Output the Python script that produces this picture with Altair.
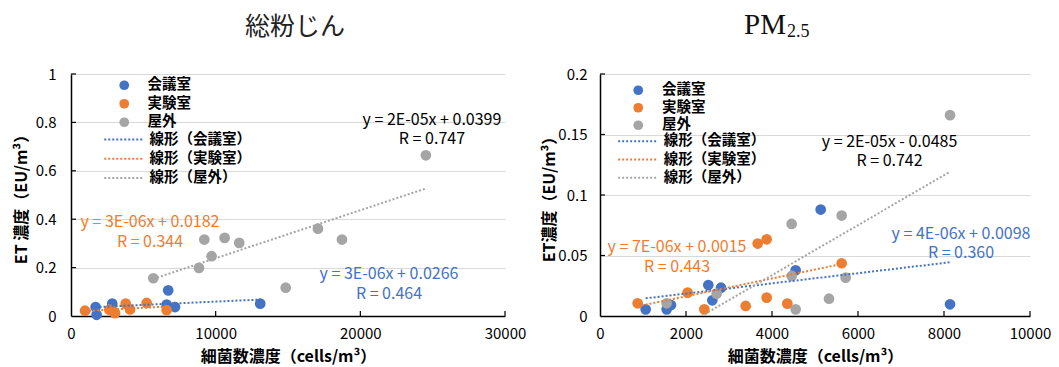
import altair as alt
import pandas as pd

SERIES = ["会議室", "実験室", "屋外"]
COLORS = ["#4472C4", "#ED7D31", "#A5A5A5"]
TREND_LABELS = ["線形（会議室）", "線形（実験室）", "線形（屋外）"]

# ---- 総粉じん (total dust) ----
tsp_room_x = [1700, 1770, 2850, 6610, 6720, 7190, 13080]
tsp_room_y = [0.037, 0.005, 0.051, 0.047, 0.106, 0.037, 0.051]
tsp_lab_x = [970, 2650, 2920, 3040, 3780, 4080, 5230, 6610]
tsp_lab_y = [0.022, 0.026, 0.019, 0.012, 0.051, 0.027, 0.054, 0.024]
tsp_out_x = [5690, 8846, 9720, 9215, 10620, 11630, 14840, 17070, 18730, 24530]
tsp_out_y = [0.156, 0.199, 0.247, 0.316, 0.323, 0.302, 0.117, 0.361, 0.316, 0.664]

# ---- PM2.5 ----
pm_room_x = [1062, 1550, 1651, 2519, 2612, 2814, 4550, 5132, 8140]
pm_room_y = [0.0055, 0.0055, 0.0091, 0.0256, 0.0130, 0.0234, 0.0378, 0.0880, 0.0097]
pm_lab_x = [876, 2039, 2426, 3388, 3667, 3876, 3876, 4357, 5620]
pm_lab_y = [0.0105, 0.0193, 0.0055, 0.0083, 0.0599, 0.0634, 0.0152, 0.0102, 0.0436]
pm_out_x = [1550, 2713, 4457, 4457, 4550, 5326, 5620, 5713, 8140]
pm_out_y = [0.0105, 0.0185, 0.0761, 0.0331, 0.0055, 0.0143, 0.0830, 0.0317, 0.1660]

# equation labels (text, colour) and their anchor in data units
tsp_eq_text = ["y = 2E-05x + 0.0399", "R = 0.747", "y = 3E-06x + 0.0182", "R = 0.344",
               "y = 3E-06x + 0.0266", "R = 0.464"]
tsp_eq_color = ["#000000", "#000000", "#ED7D31", "#ED7D31", "#4472C4", "#4472C4"]
tsp_eq_x = [24950, 24950, 5460, 5460, 21980, 21980]
tsp_eq_y = [0.811, 0.733, 0.387, 0.306, 0.174, 0.092]

pm_eq_text = ["y = 2E-05x - 0.0485", "R = 0.742", "y = 7E-06x + 0.0015", "R = 0.443",
              "y = 4E-06x + 0.0098", "R = 0.360"]
pm_eq_color = ["#000000", "#000000", "#ED7D31", "#ED7D31", "#4472C4", "#4472C4"]
pm_eq_x = [6733, 6733, 1791, 1791, 8395, 8395]
pm_eq_y = [0.1440, 0.1281, 0.0570, 0.0407, 0.0675, 0.0518]

tsp_x_ticks = [0, 10000, 20000, 30000]
tsp_y_ticks = [0, 0.2, 0.4, 0.6, 0.8, 1.0]
pm_x_ticks = [0, 2000, 4000, 6000, 8000, 10000]
pm_y_ticks = [0, 0.05, 0.1, 0.15, 0.2]

JP = "Noto Sans CJK JP"
LINE_SYMBOL = "M-2,0H2"


def make_points(xs_list, ys_list):
    rows = []
    for s, xs, ys in zip(SERIES, xs_list, ys_list):
        for xv, yv in zip(xs, ys):
            rows.append({"x": xv, "y": yv, "series": s})
    return pd.DataFrame(rows)


def panel(df, eq_df, xdom, xticks, ydom, yticks, ytitle, W, H,
          lp, title_layers, ylabpad, ytitlepad):
    xenc = alt.X("x:Q", scale=alt.Scale(domain=xdom, nice=False, zero=False),
                 axis=alt.Axis(values=xticks, format="d", grid=False, ticks=False,
                               labelFlush=False,
                               domainColor="#000000", domainWidth=1.5,
                               labelFont=JP, labelFontSize=15, labelColor="#000000",
                               labelPadding=10, title="細菌数濃度（cells/m³）",
                               titleFont=JP, titleFontSize=16, titleFontWeight="bold",
                               titleColor="#000000", titlePadding=7))
    yenc = alt.Y("y:Q", scale=alt.Scale(domain=ydom, nice=False, zero=False),
                 axis=alt.Axis(values=yticks, format="~g", grid=True, gridColor="#D9D9D9",
                               gridWidth=1, ticks=False, labelFlush=False,
                               domainColor="#000000", domainWidth=1.5,
                               labelFont=JP, labelFontSize=15, labelColor="#000000",
                               labelPadding=ylabpad, title=ytitle,
                               titleFont=JP, titleFontSize=16, titleFontWeight="bold",
                               titleColor="#000000", titlePadding=ytitlepad))
    base = alt.Chart(df)
    points = base.mark_circle(size=115, opacity=1).encode(
        x=xenc, y=yenc,
        color=alt.Color("series:N", scale=alt.Scale(domain=SERIES, range=COLORS),
                        legend=alt.Legend(orient="none", legendX=lp["px"], legendY=lp["py"],
                                          title=None, padding=0, labelFont=JP,
                                          labelFontSize=14.5, labelFontWeight="bold",
                                          labelColor="#000000", symbolType="circle",
                                          symbolSize=95, symbolStrokeWidth=0,
                                          labelOffset=lp["poff"], rowPadding=lp["rp"])),
        order=alt.Order("order:Q"),
    ).transform_calculate(order="indexof(" + str(SERIES) + ", datum.series)")
    lines = base.transform_regression("x", "y", groupby=["series"]).transform_calculate(
        trend="'線形（' + datum.series + '）'"
    ).mark_line(strokeDash=[2, 2], strokeWidth=2, clip=True).encode(
        x=alt.X("x:Q"), y=alt.Y("y:Q"),
        color=alt.Color("trend:N", scale=alt.Scale(domain=TREND_LABELS, range=COLORS),
                        legend=alt.Legend(orient="none", legendX=lp["lx"], legendY=lp["ly"],
                                          title=None, padding=0, labelFont=JP,
                                          labelFontSize=14.5, labelFontWeight="bold",
                                          labelColor="#000000", symbolType=LINE_SYMBOL,
                                          symbolSize=lp["lsize"], symbolStrokeWidth=2,
                                          symbolDash=[2, 2], labelOffset=lp["loff"],
                                          rowPadding=lp["lrp"])),
    )
    texts = alt.Chart(eq_df).mark_text(font=JP, fontSize=16, baseline="middle").encode(
        x=alt.X("x:Q"), y=alt.Y("y:Q"), text="t:N",
        color=alt.Color("c:N", scale=None),
    )
    xt = alt.Chart(pd.DataFrame({"v": xticks[1:]})).mark_rule(color="#000000", strokeWidth=1.2).encode(
        x=alt.X("v:Q"), y=alt.value(H), y2=alt.value(H - 5))
    yt = alt.Chart(pd.DataFrame({"v": yticks[1:]})).mark_rule(color="#000000", strokeWidth=1.2).encode(
        y=alt.Y("v:Q"), x=alt.value(0), x2=alt.value(5))
    return alt.layer(points, lines, texts, xt, yt, *title_layers).resolve_scale(
        color="independent").properties(width=W, height=H)


tsp_df = make_points([tsp_room_x, tsp_lab_x, tsp_out_x], [tsp_room_y, tsp_lab_y, tsp_out_y])
pm_df = make_points([pm_room_x, pm_lab_x, pm_out_x], [pm_room_y, pm_lab_y, pm_out_y])
tsp_eq = pd.DataFrame({"x": tsp_eq_x, "y": tsp_eq_y, "t": tsp_eq_text, "c": tsp_eq_color})
pm_eq = pd.DataFrame({"x": pm_eq_x, "y": pm_eq_y, "t": pm_eq_text, "c": pm_eq_color})

title_df = pd.DataFrame({"t": ["総粉じん"]})
left_title = [alt.Chart(title_df).mark_text(font=JP, fontSize=25, baseline="middle",
                                            align="center", color="#222222").encode(
    text="t:N", x=alt.value(224), y=alt.value(-47))]
pm_df_t = pd.DataFrame({"a": ["PM"], "b": ["2.5"]})
right_title = [
    alt.Chart(pm_df_t).mark_text(font="Liberation Serif", fontSize=29, align="right",
                                 baseline="alphabetic", color="#111111").encode(
        text="a:N", x=alt.value(186), y=alt.value(-40)),
    alt.Chart(pm_df_t).mark_text(font="Liberation Serif", fontSize=18, align="left",
                                 baseline="alphabetic", color="#111111").encode(
        text="b:N", x=alt.value(187), y=alt.value(-37)),
]

left = panel(tsp_df, tsp_eq, [0, 30000], tsp_x_ticks, [0, 1], tsp_y_ticks,
             "ET 濃度（EU/m³）", 434, 242,
             {"px": 46, "py": 4, "poff": 16, "lx": 41.75, "ly": 54.5, "lsize": 380,
              "loff": 14.75, "rp": 3.5, "lrp": 1.25},
             left_title, 15, 6)
right = panel(pm_df, pm_eq, [0, 10000], pm_x_ticks, [0, 0.2], pm_y_ticks,
              "ET濃度（EU/m³）", 430, 242,
              {"px": 31, "py": 9, "poff": 16.5, "lx": 26.3, "ly": 56.25, "lsize": 367,
               "loff": 15.5, "rp": 2.5, "lrp": 0.25},
              right_title, 13, 0)

chart = alt.hconcat(left, right, spacing=15).properties(
    padding={"left": 5, "top": 3, "right": 0, "bottom": 2}
).configure_view(stroke=None)

chart.save("out.html", embed_options={"renderer": "svg", "actions": False})
